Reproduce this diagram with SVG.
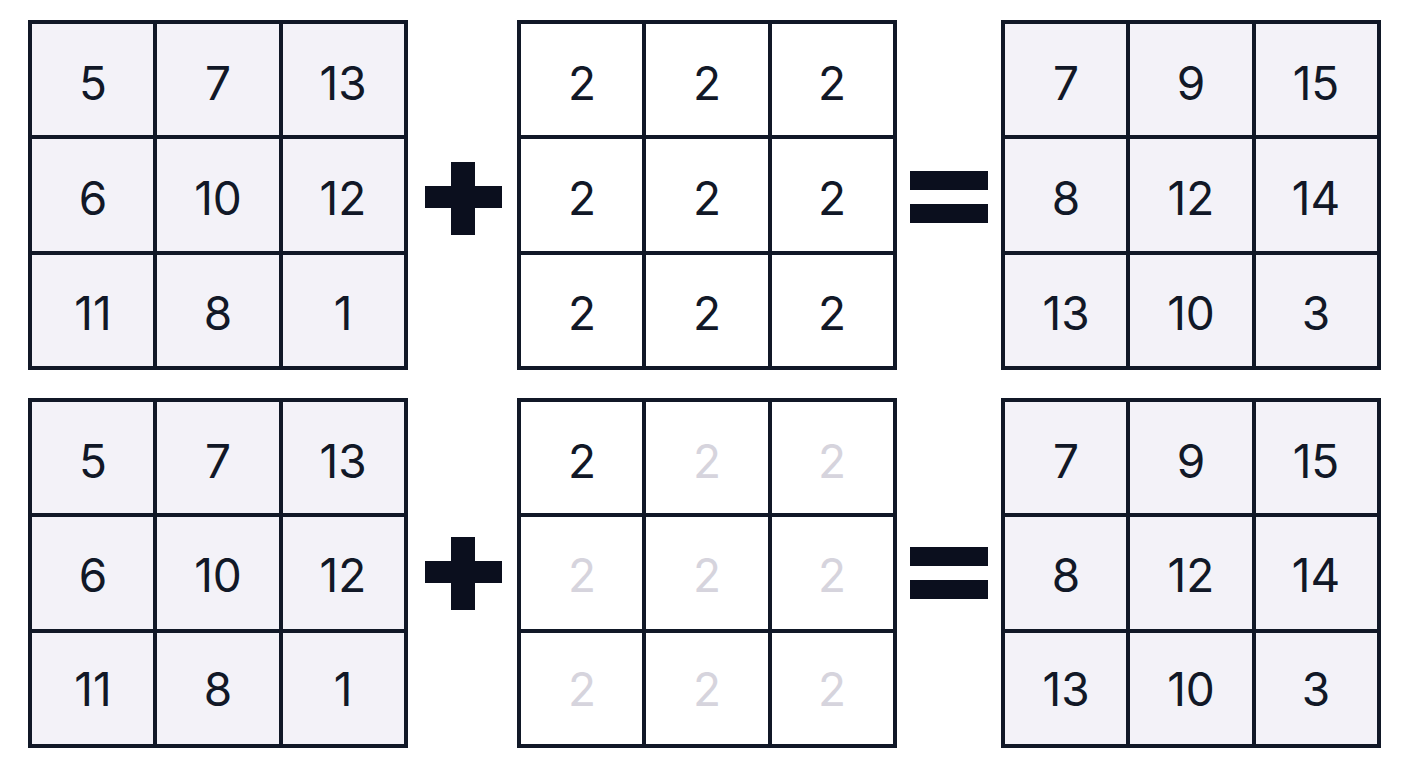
<svg xmlns="http://www.w3.org/2000/svg" width="1408" height="768" viewBox="0 0 1408 768">
<style>
.g{fill:#f3f2f8}.w{fill:#fff}
.ln{stroke:#111827;stroke-width:4;fill:none}
text{font-family:Inter,"Liberation Sans",sans-serif;font-size:46px;fill:#111827;text-anchor:middle;dominant-baseline:central}
.f{fill:#d6d4dd}
.op{fill:#0b0f1e}
</style>
<defs>
<g id="grid"><rect class="ln" x="0" y="0" width="376" height="346"/><path class="ln" d="M125 0V346M251 0V346M0 115H376M0 231H376"/></g>
</defs>
<rect width="1408" height="768" fill="#fff"/>
<g id="a1"><rect class="g" x="30" y="22" width="376" height="346"/><use href="#grid" x="30" y="22"/>
<text x="93" y="83">5</text><text x="218" y="83">7</text><text x="343" y="83">13</text>
<text x="93" y="198">6</text><text x="218" y="198">10</text><text x="343" y="198">12</text>
<text x="93" y="313">11</text><text x="218" y="313">8</text><text x="343" y="313">1</text></g>
<g id="b1"><rect class="w" x="519" y="22" width="376" height="346"/><use href="#grid" x="519" y="22"/>
<text x="582" y="83">2</text><text x="707" y="83">2</text><text x="832" y="83">2</text>
<text x="582" y="198">2</text><text x="707" y="198">2</text><text x="832" y="198">2</text>
<text x="582" y="313">2</text><text x="707" y="313">2</text><text x="832" y="313">2</text></g>
<g id="c1"><rect class="g" x="1003" y="22" width="376" height="346"/><use href="#grid" x="1003" y="22"/>
<text x="1066" y="83">7</text><text x="1191" y="83">9</text><text x="1316" y="83">15</text>
<text x="1066" y="198">8</text><text x="1191" y="198">12</text><text x="1316" y="198">14</text>
<text x="1066" y="313">13</text><text x="1191" y="313">10</text><text x="1316" y="313">3</text></g>
<g id="a2"><rect class="g" x="30" y="400" width="376" height="344"/><use href="#grid" x="30" y="400"/>
<text x="93" y="461">5</text><text x="218" y="461">7</text><text x="343" y="461">13</text>
<text x="93" y="575">6</text><text x="218" y="575">10</text><text x="343" y="575">12</text>
<text x="93" y="689">11</text><text x="218" y="689">8</text><text x="343" y="689">1</text></g>
<g id="b2"><rect class="w" x="519" y="400" width="376" height="344"/><use href="#grid" x="519" y="400"/>
<text x="582" y="461">2</text><text class="f" x="707" y="461">2</text><text class="f" x="832" y="461">2</text>
<text class="f" x="582" y="575">2</text><text class="f" x="707" y="575">2</text><text class="f" x="832" y="575">2</text>
<text class="f" x="582" y="689">2</text><text class="f" x="707" y="689">2</text><text class="f" x="832" y="689">2</text></g>
<g id="c2"><rect class="g" x="1003" y="400" width="376" height="344"/><use href="#grid" x="1003" y="400"/>
<text x="1066" y="461">7</text><text x="1191" y="461">9</text><text x="1316" y="461">15</text>
<text x="1066" y="575">8</text><text x="1191" y="575">12</text><text x="1316" y="575">14</text>
<text x="1066" y="689">13</text><text x="1191" y="689">10</text><text x="1316" y="689">3</text></g>
<g id="ops">
<path class="op" d="M451 162h24v24h27v22h-27v27h-24v-27h-26v-22h26z"/>
<rect class="op" x="910" y="171" width="78" height="19"/><rect class="op" x="910" y="204" width="78" height="19"/>
<path class="op" d="M451 537h24v24h27v22h-27v27h-24v-27h-26v-22h26z"/>
<rect class="op" x="910" y="547" width="78" height="19"/><rect class="op" x="910" y="580" width="78" height="19"/>
</g>
<g id="connectors"/>
</svg>
